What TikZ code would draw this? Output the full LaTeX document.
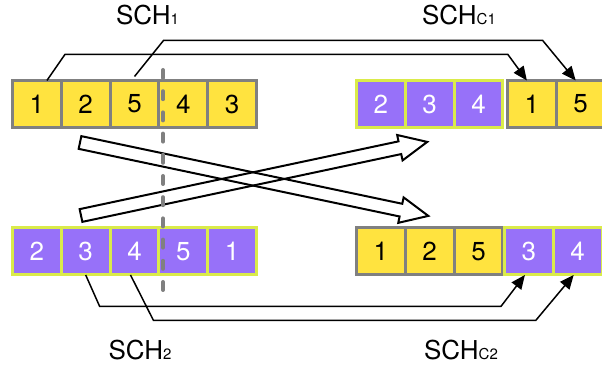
\documentclass[tikz,border=0pt]{standalone}
\usepackage{fontspec}
\setmainfont{TeX Gyre Heros}
\usepackage{tikz}
\usetikzlibrary{positioning, calc, arrows.meta}

\definecolor{schyellow}{HTML}{FFE33F}
\definecolor{schpurple}{HTML}{9771F9}
\definecolor{schlime}{HTML}{DAEB4A}
\definecolor{schgray}{HTML}{808080}

\newcommand{\subtag}[1]{{\fontsize{7.5}{9}\selectfont #1}}

\tikzset{
	cell/.style={minimum width=24.4pt, minimum height=23.5pt, inner sep=0pt,
		outer sep=0pt, line width=1.5pt, font=\fontsize{13}{15}\selectfont},
	ycell/.style={cell, fill=schyellow, draw=schgray, text=black},
	pcell/.style={cell, fill=schpurple, draw=schlime, text=white},
	link/.style={->, line width=0.75pt},
	lbl/.style={anchor=base, font=\fontsize{13}{15}\selectfont},
	divider/.style={draw=schgray, line width=2pt, dash pattern=on 4pt off 6.6pt,
		line cap=round},
	pics/hollow arrow/.style={code={
		\draw[line width=1pt] (0,-6.5) -- (#1-28,-6.5) -- (#1-28,-13) -- (#1,0)
			-- (#1-28,13) -- (#1-28,6.5) -- (0,6.5) -- cycle;
	}},
}

\begin{document}
\begin{tikzpicture}[x=0.5pt, y=-0.5pt, >={Triangle[length=7pt, width=6pt]},
			node distance=24.4pt]
		\clip (0,0) rectangle (602,369);

		% parents
		\node[ycell] (a1) at (36.9,104) {1};
		\node[ycell, right of=a1] (a2) {2};
		\node[ycell, right of=a2] (a3) {5};
		\node[ycell, right of=a3] (a4) {4};
		\node[ycell, right of=a4] (a5) {3};

		\node[pcell] (b1) at (36.9,251.5) {2};
		\node[pcell, right of=b1] (b2) {3};
		\node[pcell, right of=b2] (b3) {4};
		\node[pcell, right of=b3] (b4) {5};
		\node[pcell, right of=b4] (b5) {1};

		% children
		\node[pcell] (c1) at (380.9,104) {2};
		\node[pcell, right of=c1] (c2) {3};
		\node[pcell, right of=c2] (c3) {4};
		\node[ycell] (c4) at (531.9,104) {1};
		\node[ycell, right of=c4] (c5) {5};

		\node[ycell] (d1) at (380.9,251.5) {1};
		\node[ycell, right of=d1] (d2) {2};
		\node[ycell, right of=d2] (d3) {5};
		\node[pcell] (d4) at (528.9,251.5) {3};
		\node[pcell, right of=d4] (d5) {4};

		\node[lbl] (sch1) at (147.5,25) {SCH\subtag{1}};
		\node[lbl] (schc1) at (459,25) {SCH\subtag{C1}};
		\node[lbl] (sch2) at (140,360) {SCH\subtag{2}};
		\node[lbl] (schc2) at (461,360) {SCH\subtag{C2}};

		% moved genes
		\draw[link] ([xshift=5pt]a1.north) -- ++(18,-26)
			-- ($([xshift=-2.5pt]c4.north)+(-19,-26)$) -- ([xshift=-2.5pt]c4.north);
		\draw[link] ([yshift=2pt]a3.north) -- ++(29,-36)
			-- ($([xshift=-2.5pt]c5.north)+(-33,-40)$) -- ([xshift=-2.5pt]c5.north);
		\draw[link] (b2.south) -- ++(14,31.5)
			-- ($([xshift=-2pt]d4.south)+(-24,31.5)$) -- ([xshift=-2pt]d4.south);
		\draw[link] ([xshift=-2pt]b3.south) -- ++(23,45.5)
			-- ($([xshift=-2pt]d5.south)+(-38,45.5)$) -- ([xshift=-2pt]d5.south);

		% crossover
		\pic[rotate=-11.9] at (80,142.5) {hollow arrow=356};
		\pic[rotate=12] at (81,215.5) {hollow arrow=354};

		\draw[divider] (163,70) -- (163,290);
	\end{tikzpicture}
\end{document}
